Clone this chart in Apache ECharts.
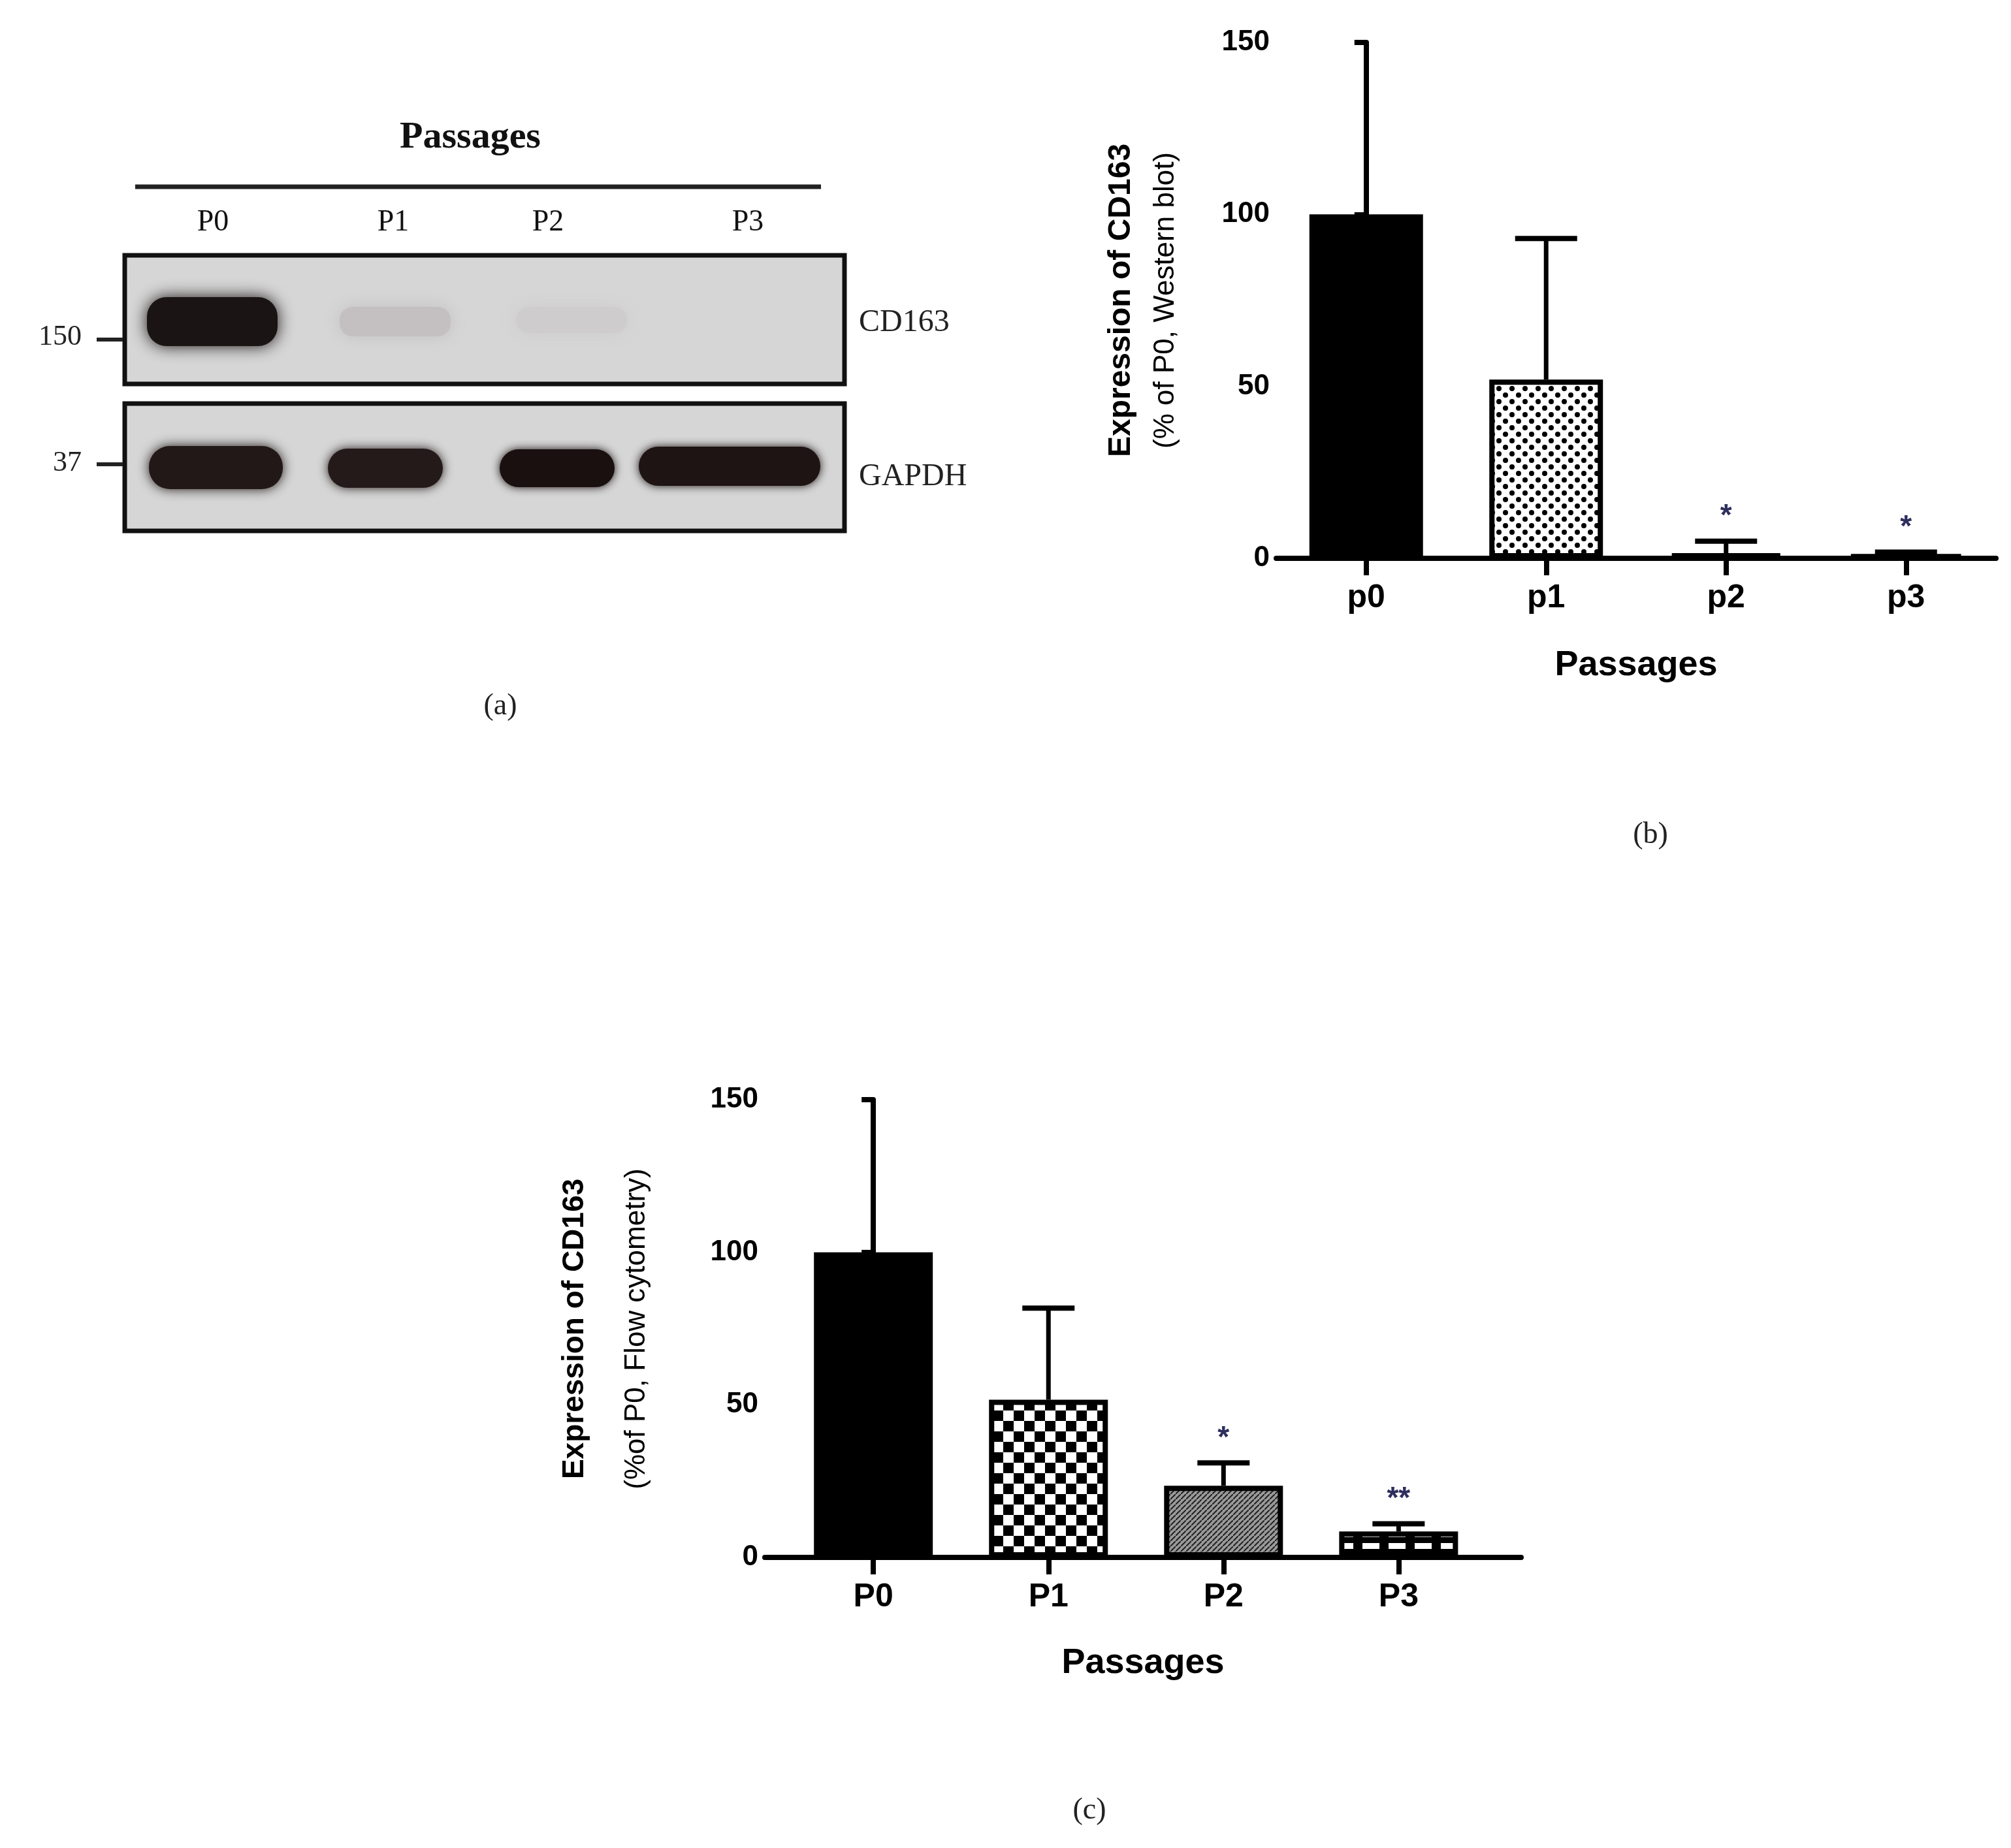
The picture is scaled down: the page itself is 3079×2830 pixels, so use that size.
<!DOCTYPE html>
<html><head><meta charset="utf-8">
<script src="https://cdn.jsdelivr.net/npm/echarts@6/dist/echarts.min.js"></script>
<style>html,body{margin:0;padding:0;background:#fff}#c{width:3079px;height:2830px}</style>
</head><body><div id="c"></div>
<script>
// ---- data ----
const catsB = ['p0','p1','p2','p3'];
const meanB = [100, 52, 1.5, 1];
const errB  = [0, 41, 3.5, 0.8];
const starsB = ['', '', '*', '*'];
const catsC = ['P0','P1','P2','P3'];
const meanC = [100, 51.7, 23.5, 8.5];
const errC  = [0, 30, 7.5, 2.5];
const starsC = ['', '', '*', '**'];
const laneLabels = ['P0','P1','P2','P3'];

function tile(w, h, draw){const c=document.createElement('canvas');c.width=w;c.height=h;const g=c.getContext('2d');draw(g);return {image:c,repeat:'repeat'};}
const patDots = tile(20,20,g=>{g.fillStyle='#fff';g.fillRect(0,0,20,20);g.fillStyle='#000';[[5,5],[15,15]].forEach(p=>{g.beginPath();g.arc(p[0],p[1],4,0,Math.PI*2);g.fill();});});
const patCheck = tile(32,32,g=>{g.fillStyle='#fff';g.fillRect(0,0,32,32);g.fillStyle='#000';g.fillRect(0,0,16,16);g.fillRect(16,16,16,16);});
const patHatch = tile(8,8,g=>{g.fillStyle='#9a9a9a';g.fillRect(0,0,8,8);g.strokeStyle='#222';g.lineWidth=2;g.beginPath();g.moveTo(0,8);g.lineTo(8,0);g.stroke();});
const patDash = tile(40,18,g=>{g.fillStyle='#000';g.fillRect(0,0,40,18);g.fillStyle='#fff';g.fillRect(6,5,26,9);});
const fillsB = ['#000', patDots, '#000', '#000'];
const fillsC = ['#000', patCheck, patHatch, patDash];

const chart = echarts.init(document.getElementById('c'));
const F = 'Liberation Sans, Arial, sans-serif';
const S = 'Liberation Serif, Times New Roman, serif';

function xAx(idx, min, max, cats){
  return {type:'value', gridIndex:idx, min:min, max:max, splitLine:{show:false},
    axisLine:{lineStyle:{color:'#000',width:8}},
    axisTick:{customValues:[0,1,2,3], length:26, lineStyle:{color:'#000',width:8}},
    axisLabel:{customValues:[0,1,2,3], formatter:v=>cats[Math.round(v)], color:'#000', fontFamily:F, fontWeight:'bold', fontSize:50, margin:36}};
}
function yAx(idx){
  return {type:'value', gridIndex:idx, min:0, max:150, interval:50, splitLine:{show:false},
    axisLine:{show:true, lineStyle:{color:'#000',width:8}},
    axisTick:{show:true, length:18, lineStyle:{color:'#000',width:8}},
    axisLabel:{color:'#000', fontFamily:F, fontWeight:'bold', fontSize:44, margin:10}};
}
function barSeries(idx, means, fills, w){
  return {type:'bar', xAxisIndex:idx, yAxisIndex:idx, barWidth:w,
    data: means.map((v,i)=>({value:[i,v], itemStyle:{color:fills[i], borderColor:'#000', borderWidth:8}})), z:2};
}
function errSeries(idx, means, errs, stars, cap){
  const d = [];
  means.forEach((v,i)=>{ if(errs[i]>0) d.push([i, v, errs[i]]); });
  return {type:'custom', xAxisIndex:idx, yAxisIndex:idx, z:3,
    encode:{x:0, y:1},
    data: d,
    renderItem:(p, api)=>{
      const x=api.value(0), m=api.value(1), e=api.value(2);
      const a=api.coord([x,m]), b=api.coord([x,m+e]);
      const ch=[
        {type:'line', shape:{x1:a[0],y1:a[1],x2:b[0],y2:b[1]}, style:{stroke:'#000',lineWidth:7}},
        {type:'line', shape:{x1:b[0]-cap/2,y1:b[1],x2:b[0]+cap/2,y2:b[1]}, style:{stroke:'#000',lineWidth:8}}
      ];
      const s = stars[Math.round(x)];
      if(s) ch.push({type:'text', style:{text:s, x:b[0], y:b[1]-14, align:'center', verticalAlign:'bottom', fill:'#2e2e5e', font:'bold 46px '+F}});
      return {type:'group', children:ch};
    }};
}

const gridB = {left:1954, top:65, width:1102, height:790};
const gridC = {left:1171, top:1684, width:1158, height:701};

const gray = '#d6d6d6';
const graphics = [
  {type:'text', x:720, y:211, style:{text:'Passages', font:'bold 58px '+S, fill:'#111', align:'center', verticalAlign:'middle'}},
  {type:'line', shape:{x1:207,y1:286,x2:1257,y2:286}, style:{stroke:'#222',lineWidth:7}},
  ...laneLabels.map((t,i)=>({type:'text', x:[326,602,839,1145][i], y:341, style:{text:t, font:'46px '+S, fill:'#111', align:'center', verticalAlign:'middle'}})),
  {type:'rect', shape:{x:191,y:391,width:1102,height:197}, style:{fill:gray, stroke:'#111', lineWidth:7}},
  {type:'rect', shape:{x:191,y:618,width:1102,height:195}, style:{fill:gray, stroke:'#111', lineWidth:7}},
  {type:'rect', shape:{x:225,y:455,width:200,height:75,r:30}, style:{fill:'#1b1414', shadowBlur:25, shadowColor:'#1b1414'}},
  {type:'rect', shape:{x:520,y:470,width:170,height:45,r:20}, style:{fill:'#c4c0c2', shadowBlur:25, shadowColor:'#c4c0c2'}},
  {type:'rect', shape:{x:790,y:470,width:170,height:40,r:20}, style:{fill:'#cfcccd', shadowBlur:25, shadowColor:'#cfcccd'}},
  {type:'rect', shape:{x:228,y:683,width:205,height:66,r:32}, style:{fill:'#221818', shadowBlur:18, shadowColor:'#221818'}},
  {type:'rect', shape:{x:502,y:687,width:176,height:60,r:30}, style:{fill:'#241a1a', shadowBlur:16, shadowColor:'#241a1a'}},
  {type:'rect', shape:{x:765,y:688,width:176,height:58,r:29}, style:{fill:'#1a1010', shadowBlur:14, shadowColor:'#1a1010'}},
  {type:'rect', shape:{x:978,y:684,width:278,height:60,r:30}, style:{fill:'#1e1414', shadowBlur:14, shadowColor:'#1e1414'}},
  {type:'line', shape:{x1:148,y1:520,x2:188,y2:520}, style:{stroke:'#222',lineWidth:6}},
  {type:'line', shape:{x1:148,y1:711,x2:188,y2:711}, style:{stroke:'#222',lineWidth:6}},
  {type:'text', x:125, y:516, style:{text:'150', font:'44px '+S, fill:'#222', align:'right', verticalAlign:'middle'}},
  {type:'text', x:125, y:709, style:{text:'37', font:'44px '+S, fill:'#222', align:'right', verticalAlign:'middle'}},
  {type:'text', x:1315, y:494, style:{text:'CD163', font:'48px '+S, fill:'#222', align:'left', verticalAlign:'middle'}},
  {type:'text', x:1315, y:730, style:{text:'GAPDH', font:'48px '+S, fill:'#222', align:'left', verticalAlign:'middle'}},
  {type:'text', x:766, y:1082, style:{text:'(a)', font:'46px '+S, fill:'#222', align:'center', verticalAlign:'middle'}},
  {type:'text', x:2527, y:1279, style:{text:'(b)', font:'46px '+S, fill:'#222', align:'center', verticalAlign:'middle'}},
  {type:'text', x:1668, y:2773, style:{text:'(c)', font:'46px '+S, fill:'#222', align:'center', verticalAlign:'middle'}},
  {type:'text', x:1717, y:460, rotation:Math.PI/2, style:{text:'Expression of CD163', font:'bold 48px '+F, fill:'#000', align:'center', verticalAlign:'middle'}},
  {type:'text', x:1785, y:460, rotation:Math.PI/2, style:{text:'(% of P0, Western blot)', font:'44px '+F, fill:'#000', align:'center', verticalAlign:'middle'}},
  {type:'text', x:2505, y:1019, style:{text:'Passages', font:'bold 54px '+F, fill:'#000', align:'center', verticalAlign:'middle'}},
  {type:'text', x:880, y:2035, rotation:Math.PI/2, style:{text:'Expression of CD163', font:'bold 46px '+F, fill:'#000', align:'center', verticalAlign:'middle'}},
  {type:'text', x:975, y:2035, rotation:Math.PI/2, style:{text:'(%of P0, Flow cytometry)', font:'44px '+F, fill:'#000', align:'center', verticalAlign:'middle'}},
  {type:'text', x:1750, y:2547, style:{text:'Passages', font:'bold 54px '+F, fill:'#000', align:'center', verticalAlign:'middle'}}
];

chart.setOption({
  animation:false,
  backgroundColor:'#fff',
  grid:[gridB, gridC],
  xAxis:[xAx(0,-0.5,3.5,catsB), xAx(1,-0.62,3.7,catsC)],
  yAxis:[yAx(0), yAx(1)],
  series:[
    barSeries(0, meanB, fillsB, 174),
    errSeries(0, meanB, errB, starsB, 95),
    barSeries(1, meanC, fillsC, 182),
    errSeries(1, meanC, errC, starsC, 80)
  ],
  graphic:graphics
});
</script></body></html>
